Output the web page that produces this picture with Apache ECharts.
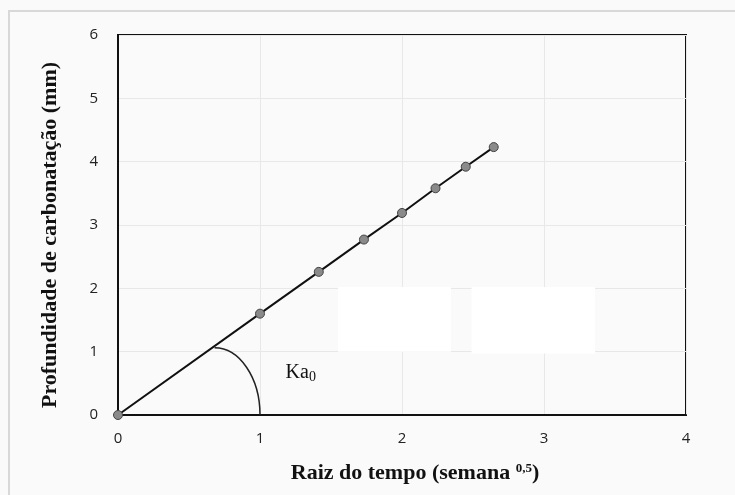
<!DOCTYPE html>
<html>
<head>
<meta charset="utf-8">
<script src="https://cdn.jsdelivr.net/npm/echarts@6/dist/echarts.min.js"></script>
<style>
    html, body { margin: 0; padding: 0; background: #fafafa; }
    #main { width: 735px; height: 495px; }
</style>
</head>
<body>
<div id="main"></div>
<script>
    // raiz do tempo (semana^0,5) e profundidade (mm)
    var raizTempo = [0, 1, 1.414, 1.732, 2, 2.236, 2.449, 2.646];
    var profundidade = [0, 1.6, 2.26, 2.77, 3.19, 3.58, 3.92, 4.23];
    var xTicks = [0, 1, 2, 3, 4];
    var yTicks = [0, 1, 2, 3, 4, 5, 6];

    var pontos = raizTempo.map(function (x, i) { return [x, profundidade[i]]; });

    var myChart = echarts.init(document.getElementById('main'));

    var option = {
        backgroundColor: '#fafafa',
        animation: false,
        grid: {
            left: 118, right: 49, top: 35, bottom: 80,
            show: true, borderColor: '#111', borderWidth: 2, backgroundColor: 'transparent'
        },
        xAxis: {
            type: 'value',
            min: xTicks[0], max: xTicks[xTicks.length - 1], interval: 1,
            axisLine: {lineStyle: {color: '#111', width: 2}},
            axisTick: {show: false},
            splitLine: {lineStyle: {color: '#e8e8e8', width: 1}},
            axisLabel: {
                margin: 16, fontFamily: 'Open Sans', fontSize: 15, color: '#222'
            },
            name: '{t|Raiz do tempo (semana }{s|0,5}{t|)}',
            nameLocation: 'middle',
            nameGap: 47,
            nameTextStyle: {
                padding: [0, 0, 0, 26],
                rich: {
                    t: {fontFamily: 'Liberation Serif', fontWeight: 'bold', fontSize: 22, color: '#111'},
                    s: {fontFamily: 'Liberation Serif', fontWeight: 'bold', fontSize: 13, color: '#111',
                        verticalAlign: 'top', padding: [0, 0, 10, 0]}
                }
            }
        },
        yAxis: {
            type: 'value',
            min: yTicks[0], max: yTicks[yTicks.length - 1], interval: 1,
            axisLine: {show: true, lineStyle: {color: '#111', width: 2}},
            axisTick: {show: false},
            splitLine: {lineStyle: {color: '#e8e8e8', width: 1}},
            axisLabel: {
                margin: 20, fontFamily: 'Open Sans', fontSize: 15, color: '#222'
            },
            name: 'Profundidade de carbonatação (mm)',
            nameLocation: 'middle',
            nameGap: 57,
            nameTextStyle: {
                padding: [0, 20, 0, 0],
                fontFamily: 'Liberation Serif', fontWeight: 'bold', fontSize: 22, color: '#111'
            }
        },
        series: [
            {
                type: 'line',
                data: pontos,
                symbol: 'circle',
                symbolSize: 9,
                itemStyle: {color: '#8a8a8a', borderColor: '#444', borderWidth: 1},
                lineStyle: {color: '#111', width: 2},
                z: 3
            }
        ]
    };

    myChart.setOption(option);

    // angulo Ka0: quarto de elipse entre a reta e o eixo x
    function px(p) { return myChart.convertToPixel({gridIndex: 0}, p); }
    var c = px([0.68, 0]);
    var topo = px([0.68, 1.06]);
    var dir = px([1, 0]);
    var k = 0.5523;
    var rx = dir[0] - c[0], ry = c[1] - topo[1];
    var rotulo = px([1.18, 0.66]);
    var caixa1a = px([1.55, 2.02]), caixa1b = px([2.345, 1.0]);
    var caixa2a = px([2.49, 2.02]), caixa2b = px([3.36, 0.97]);

    myChart.setOption({
        graphic: [
            {
                type: 'rect', silent: true,
                shape: {x: 9, y: 11, width: 760, height: 520},
                style: {fill: 'none', stroke: '#d8d8d8', lineWidth: 2}
            },
            {
                type: 'rect', silent: true, z: 1,
                shape: {x: caixa1a[0], y: caixa1a[1], width: caixa1b[0] - caixa1a[0], height: caixa1b[1] - caixa1a[1]},
                style: {fill: '#ffffff'}
            },
            {
                type: 'rect', silent: true, z: 1,
                shape: {x: caixa2a[0], y: caixa2a[1], width: caixa2b[0] - caixa2a[0], height: caixa2b[1] - caixa2a[1]},
                style: {fill: '#ffffff'}
            },
            {
                type: 'bezierCurve', silent: true, z: 5,
                shape: {
                    x1: topo[0], y1: topo[1],
                    cpx1: c[0] + k * rx, cpy1: topo[1],
                    cpx2: dir[0], cpy2: c[1] - k * ry,
                    x2: dir[0], y2: c[1]
                },
                style: {fill: 'none', stroke: '#222', lineWidth: 1.5}
            },
            {
                type: 'text', silent: true, z: 5,
                x: rotulo[0], y: rotulo[1],
                style: {
                    text: '{a|Ka}{b|0}',
                    rich: {
                        a: {fontFamily: 'Liberation Serif', fontSize: 20, fill: '#111'},
                        b: {fontFamily: 'Liberation Serif', fontSize: 14, fill: '#111', verticalAlign: 'bottom', padding: [8, 0, 0, 0]}
                    },
                    verticalAlign: 'middle'
                }
            }
        ]
    });
</script>
</body>
</html>
